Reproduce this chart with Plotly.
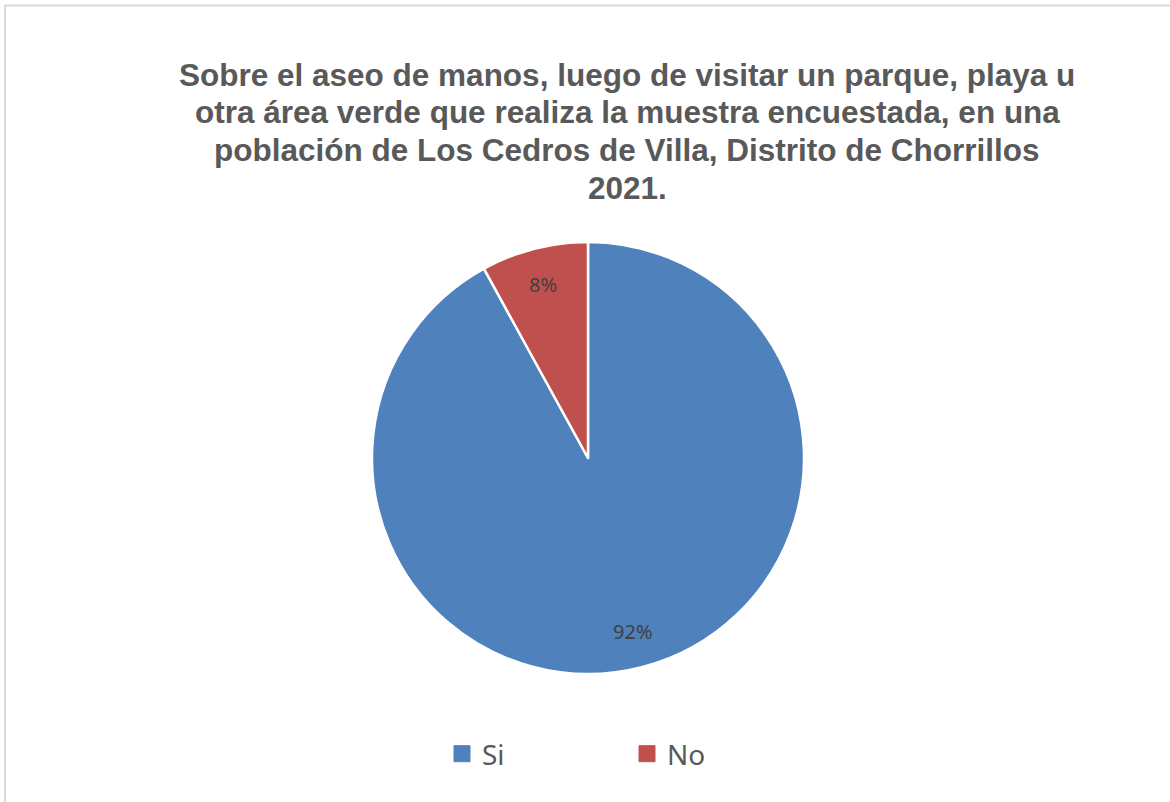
import math
import plotly.graph_objects as go

# Survey answers and their shares (%)
categories = ["Si", "No"]
shares = [92, 8]
colors = ["#4F81BD", "#C0504D"]

title_lines = [
    "Sobre el aseo de manos, luego de visitar un parque, playa u",
    "otra área verde que realiza la muestra encuestada, en una",
    "población de Los Cedros de Villa, Distrito de Chorrillos",
    "2021.",
]

W, H = 1170, 802
cx, cy, R = 588, 458, 216  # pie centre and radius in pixels

fig = go.Figure()
fig.add_trace(go.Pie(
    labels=categories,
    values=shares,
    sort=False,
    direction="clockwise",
    rotation=0,
    marker=dict(colors=colors, line=dict(color="white", width=2.5)),
    textinfo="none",
    hoverinfo="label+percent",
    domain=dict(x=[(cx - R) / W, (cx + R) / W], y=[1 - (cy + R) / H, 1 - (cy - R) / H]),
    showlegend=False,
))

# Legend entries as square-marker traces (larger swatches than the pie legend)
for cat, col in zip(categories, colors):
    fig.add_trace(go.Scatter(
        x=[None], y=[None], mode="markers", name=cat,
        marker=dict(symbol="square", size=16, color=col, line=dict(color=col, width=1)),
        hoverinfo="skip", showlegend=True,
    ))

# Percentage labels placed along each slice's mid-angle
total = sum(shares)
start = 0.0
for cat, v in zip(categories, shares):
    frac = v / total
    mid = (start + frac / 2) * 2 * math.pi  # clockwise from 12 o'clock
    start += frac
    r = 0.83 * R
    px = cx + r * math.sin(mid)
    py = cy - r * math.cos(mid)
    fig.add_annotation(
        x=px / W, y=1 - py / H, xref="paper", yref="paper",
        xanchor="center", yanchor="middle",
        text=f"{round(frac * 100)}%", showarrow=False,
        font=dict(family="Noto Sans, sans-serif", size=20, color="#404040"),
    )

# Chart title, one annotation per line for tighter line spacing
line_y = [75, 112.5, 150, 187.5]
for txt, ly in zip(title_lines, line_y):
    fig.add_annotation(
        x=627 / W, y=1 - ly / H, xref="paper", yref="paper",
        xanchor="center", yanchor="middle",
        text=f"<b>{txt}</b>", showarrow=False,
        font=dict(family="Liberation Sans, Arial, sans-serif", size=31.5, color="#595959"),
    )

# Outer frame
fig.add_shape(type="rect", xref="paper", yref="paper",
              x0=5 / W, y0=-0.05, x1=1.05, y1=1 - 5.5 / H,
              line=dict(color="#D9D9D9", width=2), fillcolor="rgba(0,0,0,0)")

fig.update_layout(
    width=W, height=H,
    margin=dict(l=0, r=0, t=0, b=0),
    paper_bgcolor="white",
    plot_bgcolor="white",
    xaxis=dict(visible=False),
    yaxis=dict(visible=False),
    legend=dict(
        orientation="h", x=442 / W, y=1 - 754 / H, xanchor="left", yanchor="middle",
        entrywidth=140, entrywidthmode="pixels",
        font=dict(family="Noto Sans, sans-serif", size=28, color="#595959"),
    ),
)

fig.write_html("out.html")
